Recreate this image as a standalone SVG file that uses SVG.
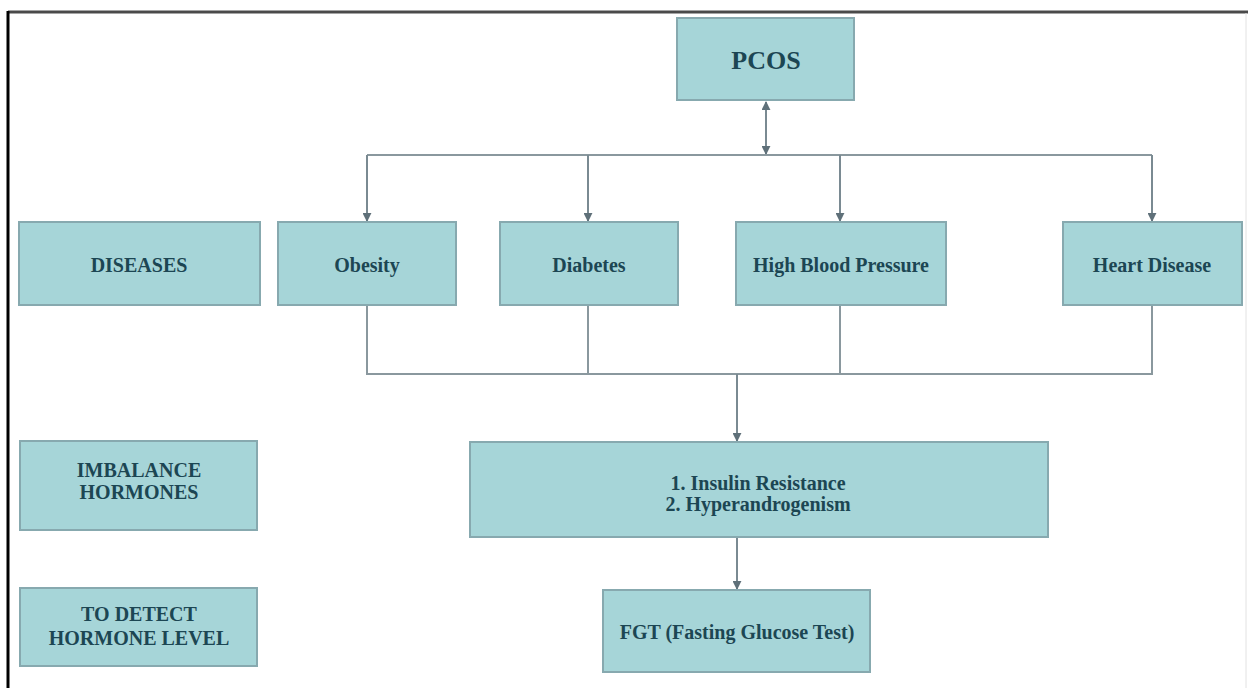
<svg xmlns="http://www.w3.org/2000/svg" width="1248" height="688" viewBox="0 0 1248 688">
<defs>
<marker id="ah" viewBox="0 0 10 10" refX="9" refY="5" markerWidth="9" markerHeight="9" markerUnits="userSpaceOnUse" orient="auto-start-reverse">
<path d="M0,0 L10,5 L0,10 z" fill="#5f7079"/>
</marker>
<style>
.box{fill:#a6d5d8;stroke:#87a9af;stroke-width:2}
.t{font-family:"Liberation Serif","Times New Roman",serif;font-weight:bold;fill:#1c4653;text-anchor:middle;dominant-baseline:central;font-size:20px}
.big{font-size:26px}
.ln{fill:none;stroke:#8a989e;stroke-width:2}
.ar{fill:none;stroke:#7a8a92;stroke-width:2;marker-end:url(#ah)}
</style>
</defs>
<rect x="0" y="0" width="1248" height="688" fill="#ffffff"/>
<g id="frame">
<line x1="8" y1="12" x2="1248" y2="12" stroke="#4a4a4a" stroke-width="3"/>
<line x1="8" y1="11" x2="8" y2="688" stroke="#000" stroke-width="3"/>
<line x1="1246" y1="13" x2="1246" y2="688" stroke="#e2e2e2" stroke-width="1"/>
</g>
<g id="connectors">
<line class="ar" x1="766" y1="128" x2="766" y2="102"/>
<line class="ar" x1="766" y1="128" x2="766" y2="154"/>
<polyline class="ln" points="367,155 1152,155"/>
<line class="ar" x1="367" y1="155" x2="367" y2="221"/>
<line class="ar" x1="588" y1="155" x2="588" y2="221"/>
<line class="ar" x1="840" y1="155" x2="840" y2="221"/>
<line class="ar" x1="1152" y1="155" x2="1152" y2="221"/>
<line class="ln" x1="367" y1="305" x2="367" y2="374"/>
<line class="ln" x1="588" y1="305" x2="588" y2="374"/>
<line class="ln" x1="840" y1="305" x2="840" y2="374"/>
<line class="ln" x1="1152" y1="305" x2="1152" y2="374"/>
<line class="ln" x1="366" y1="374" x2="1153" y2="374"/>
<line class="ar" x1="737" y1="374" x2="737" y2="441"/>
<line class="ar" x1="737" y1="537" x2="737" y2="589"/>
</g>
<g id="pcos"><rect class="box" x="677" y="18" width="177" height="82"/><text class="t big" x="766" y="60">PCOS</text></g>
<g id="diseases"><rect class="box" x="19" y="222" width="241" height="83"/><text class="t" x="139" y="265">DISEASES</text></g>
<g id="obesity"><rect class="box" x="278" y="222" width="178" height="83"/><text class="t" x="367" y="265">Obesity</text></g>
<g id="diabetes"><rect class="box" x="500" y="222" width="178" height="83"/><text class="t" x="589" y="265">Diabetes</text></g>
<g id="hbp"><rect class="box" x="736" y="222" width="210" height="83"/><text class="t" x="841" y="265">High Blood Pressure</text></g>
<g id="heart"><rect class="box" x="1063" y="222" width="179" height="83"/><text class="t" x="1152" y="265">Heart Disease</text></g>
<g id="imbalance"><rect class="box" x="20" y="441" width="237" height="89"/><text class="t" x="139" y="470">IMBALANCE</text><text class="t" x="139" y="492">HORMONES</text></g>
<g id="insulin"><rect class="box" x="470" y="442" width="578" height="95"/><text class="t" x="758" y="483">1. Insulin Resistance</text><text class="t" x="758" y="504">2. Hyperandrogenism</text></g>
<g id="detect"><rect class="box" x="20" y="588" width="237" height="78"/><text class="t" x="139" y="614">TO DETECT</text><text class="t" x="139" y="638">HORMONE LEVEL</text></g>
<g id="fgt"><rect class="box" x="603" y="590" width="267" height="82"/><text class="t" x="737" y="632">FGT (Fasting Glucose Test)</text></g>
</svg>
